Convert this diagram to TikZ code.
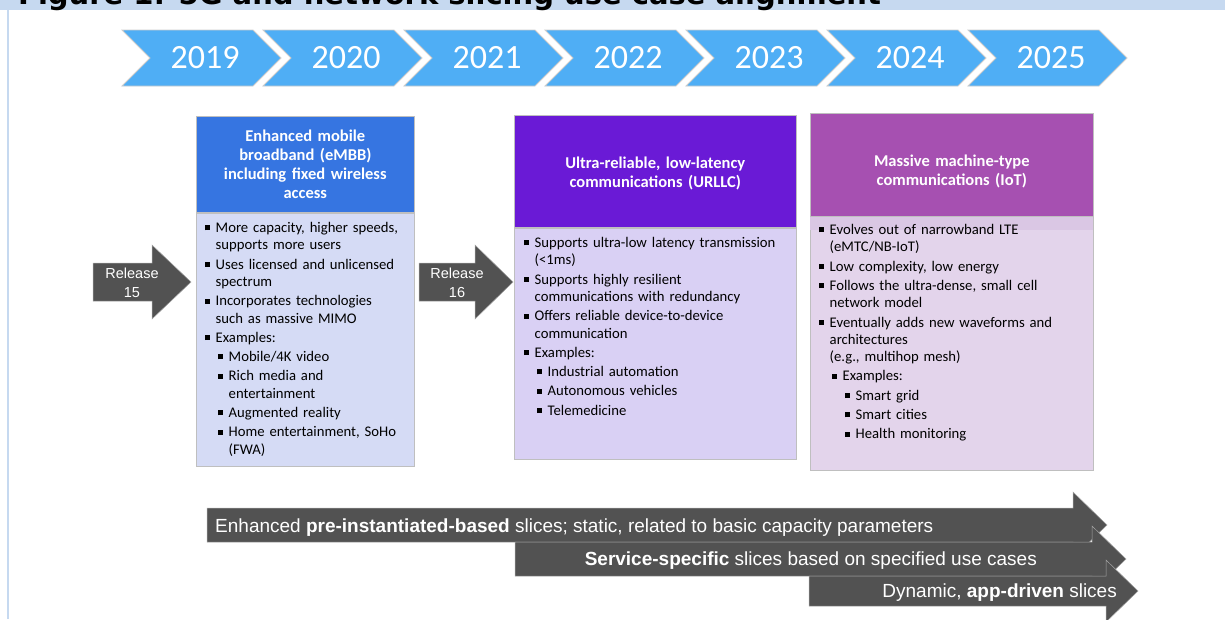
\documentclass[tikz,border=0pt]{standalone}
\usepackage{fontspec}
\setmainfont{Carlito}
\newfontfamily\arialfont{Liberation Sans}
\newfontfamily\titlefont{DejaVu Sans}
\usepackage{tikz}
\usetikzlibrary{positioning}

\definecolor{titleband}{RGB}{198,217,240}
\definecolor{chevfill}{RGB}{79,174,245}
\definecolor{embbHead}{RGB}{54,117,225}
\definecolor{embbBody}{RGB}{213,219,245}
\definecolor{urllcHead}{RGB}{106,26,214}
\definecolor{urllcBody}{RGB}{217,208,244}
\definecolor{iotHead}{RGB}{166,80,177}
\definecolor{iotBody}{RGB}{227,212,235}
\definecolor{iotBand}{RGB}{218,199,228}
\definecolor{darkarrow}{RGB}{82,82,82}

\newcommand{\bsq}{\rule[2.2pt]{5pt}{5pt}}
\newcommand{\bitem}[1]{\par\hangindent=10.5pt\hangafter=1\noindent\strut\makebox[10.5pt][l]{\bsq}#1\par}
\newcommand{\sitem}[1]{\par\hangindent=23.5pt\hangafter=1\noindent\strut\hspace*{13pt}\makebox[10.5pt][l]{\bsq}#1\par}
\newcommand{\ssitem}[1]{\par\hangindent=36.5pt\hangafter=1\noindent\strut\hspace*{26pt}\makebox[10.5pt][l]{\bsq}#1\par}
\newcommand{\bodyfont}{\fontsize{14.7}{17.3}\selectfont\setlength{\parskip}{2pt}}

\begin{document}
\begin{tikzpicture}[x=1pt, y=-1pt]

\tikzstyle{chevron} = [fill=chevfill, draw=black!20, line width=0.8pt]
\tikzstyle{yeartext} = [text=white, font=\fontsize{34}{36}\selectfont]
\tikzstyle{boxhead} = [rectangle, draw=black!25, line width=0.6pt, anchor=north west]
\tikzstyle{headtext} = [text=white, text width=215pt, align=center, font=\bfseries\fontsize{16.5}{19}\selectfont]
\tikzstyle{boxbody} = [rectangle, draw=black!25, line width=0.6pt, anchor=north]
\tikzstyle{bodytext} = [anchor=north west, inner sep=0pt, text width=270pt, font=\bodyfont]
\tikzstyle{darkshape} = [fill=darkarrow, draw=black!35, line width=0.5pt]
\tikzstyle{reltext} = [text=white, align=center, font=\arialfont\fontsize{14.5}{19}\selectfont]
\tikzstyle{slicetext} = [text=white, inner sep=0pt, font=\arialfont\fontsize{19}{22}\selectfont]

\useasboundingbox (0,0) rectangle (1225,619);

% Title strip
\fill[titleband] (0,0) rectangle (1225,10);
\draw[titleband, line width=1.2pt] (8,10) -- (8,619);
\begin{scope}
\clip (0,0) rectangle (1225,10);
\node[anchor=base west, inner sep=0pt, font=\titlefont\bfseries\fontsize{29}{32}\selectfont] (title) at (18,4) {Figure 1: 5G and network slicing use case alignment};
\end{scope}

% Year chevrons
\foreach \yr [count=\i from 0] in {2019,2020,2021,2022,2023,2024,2025} {
  \pgfmathsetmacro{\xa}{122+141*\i}
  \filldraw[chevron] (\xa,30) -- ++(131,0) -- ++(28,28) -- ++(-28,28) -- ++(-131,0) -- ++(28,-28) -- cycle;
  \node[yeartext] (year\yr) at (\xa+83,58) {\yr};
}

% Release arrows
\filldraw[darkshape] (93,263) -- (152,263) -- (152,245) -- (191,282) -- (152,319) -- (152,301) -- (93,301) -- cycle;
\node[reltext] (rel15) at (132,283) {Release\\15};
\filldraw[darkshape] (419,263) -- (475,263) -- (475,245) -- (513,282) -- (475,319) -- (475,301) -- (419,301) -- cycle;
\node[reltext] (rel16) at (457,283) {Release\\16};

% Use case boxes
\node[boxhead, fill=embbHead, minimum width=218pt, minimum height=96pt] (embbHead) at (196,116) {};
\node[headtext] (embbTitle) at (embbHead.center) {Enhanced mobile\\broadband (eMBB)\\including fixed wireless\\access};
\node[boxbody, fill=embbBody, minimum width=218pt, minimum height=253pt] (embbBody) at (embbHead.south) {};
\node[bodytext] (embbText) at (205,213) {%
\bitem{More capacity, higher speeds,\newline supports more users}
\bitem{Uses licensed and unlicensed\newline spectrum}
\bitem{Incorporates technologies\newline such as massive MIMO}
\bitem{Examples:}
\sitem{Mobile/4K video}
\sitem{Rich media and\newline entertainment}
\sitem{Augmented reality}
\sitem{Home entertainment, SoHo\newline (FWA)}};

\node[boxhead, fill=urllcHead, minimum width=282pt, minimum height=112pt] (urllcHead) at (514,115) {};
\node[headtext] (urllcTitle) at ([yshift=-2pt]urllcHead.center) {Ultra-reliable, low-latency\\communications (URLLC)};
\node[boxbody, fill=urllcBody, minimum width=282pt, minimum height=231pt] (urllcBody) at (urllcHead.south) {};
\node[bodytext] (urllcText) at (524,228) {%
\bitem{Supports ultra-low latency transmission\newline (<1ms)}
\bitem{Supports highly resilient\newline communications with redundancy}
\bitem{Offers reliable device-to-device\newline communication}
\bitem{Examples:}
\sitem{Industrial automation}
\sitem{Autonomous vehicles}
\sitem{Telemedicine}};

\node[boxhead, fill=iotHead, minimum width=283pt, minimum height=103pt] (iotHead) at (810,113) {};
\node[headtext] (iotTitle) at ([yshift=-7pt]iotHead.center) {Massive machine-type\\communications (IoT)};
\node[boxbody, fill=iotBody, minimum width=283pt, minimum height=253pt] (iotBody) at (iotHead.south) {};
\fill[iotBand] ([xshift=0.3pt,yshift=-0.3pt]iotBody.north west) rectangle ([xshift=-0.3pt,yshift=-13pt]iotBody.north east);
\node[bodytext] (iotText) at (819,215) {%
\bitem{Evolves out of narrowband LTE\newline (eMTC/NB-IoT)}
\bitem{Low complexity, low energy}
\bitem{Follows the ultra-dense, small cell\newline network model}
\bitem{Eventually adds new waveforms and\newline architectures\newline (e.g., multihop mesh)}
\sitem{Examples:}
\ssitem{Smart grid}
\ssitem{Smart cities}
\ssitem{Health monitoring}};

% Slice arrows
\filldraw[darkshape] (207,508) -- (1073,508) -- (1073,492) -- (1107,525) -- (1073,558) -- (1073,542) -- (207,542) -- cycle;
\node[slicetext, anchor=west] (slice1) at (215,528) {Enhanced \textbf{pre-instantiated-based} slices; static, related to basic capacity parameters};
\filldraw[darkshape] (515,542) -- (1092,542) -- (1092,526) -- (1126,559) -- (1092,592) -- (1092,576) -- (515,576) -- cycle;
\node[slicetext, anchor=east] (slice2) at (1037,561) {\textbf{Service-specific} slices based on specified use cases};
\filldraw[darkshape] (809,576) -- (1106,576) -- (1106,560) -- (1138,591) -- (1106,622) -- (1106,606) -- (809,606) -- cycle;
\node[slicetext, anchor=east] (slice3) at (1117,593) {Dynamic, \textbf{app-driven} slices};

\end{tikzpicture}
\end{document}
